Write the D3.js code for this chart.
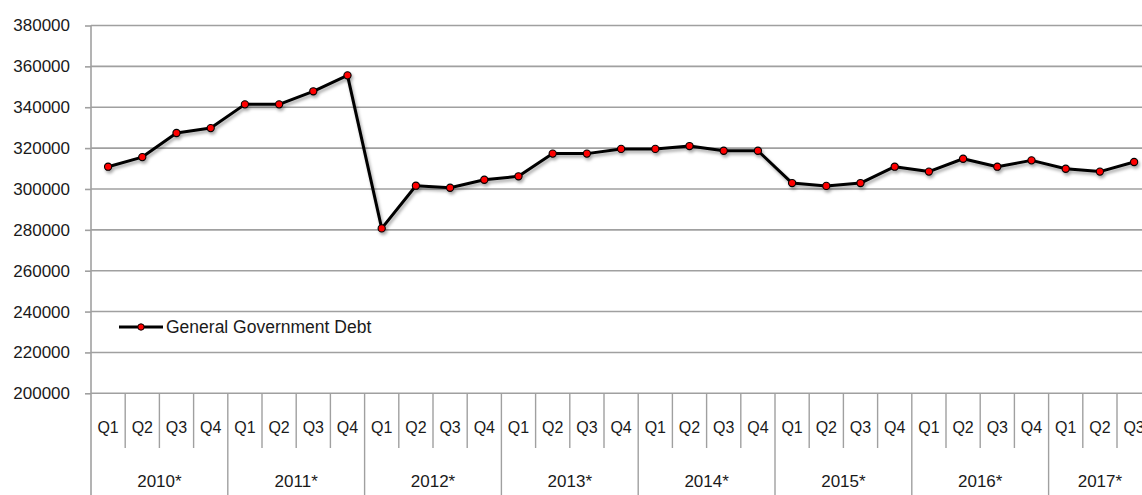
<!DOCTYPE html>
<html>
<head>
<meta charset="utf-8">
<script src="https://cdn.jsdelivr.net/npm/d3@7"></script>
<style>
  html, body { margin: 0; padding: 0; background: #fff; overflow: hidden; }
  text { font-family: "Liberation Sans", Arial, sans-serif; fill: #1a1a1a; }
</style>
</head>
<body>
<svg id="chart" width="1142" height="495"></svg>
<script>
// Quarterly general government debt, 2010* - 2017* Q3
const years = ['2010*', '2011*', '2012*', '2013*', '2014*', '2015*', '2016*', '2017*'];
const quarters = ['Q1', 'Q2', 'Q3', 'Q4'];
const quartersPerYear = [4, 4, 4, 4, 4, 4, 4, 3];
const debtValues = [
  310900, 315600, 327400, 329800,
  341400, 341400, 347800, 355600,
  280700, 301600, 300600, 304500,
  306200, 317300, 317300, 319600,
  319600, 321000, 318700, 318700,
  302900, 301500, 302900, 310900,
  308500, 314800, 310900, 314000,
  309900, 308500, 313200
];
const yTicks = [200000, 220000, 240000, 260000, 280000, 300000, 320000, 340000, 360000, 380000];
const seriesName = 'General Government Debt';

// build category list (year + quarter) from the arrays above
const categories = [];
years.forEach((yr, i) => {
  for (let q = 0; q < quartersPerYear[i]; q++) {
    categories.push({ key: yr + ' ' + quarters[q], year: yr, quarter: quarters[q] });
  }
});
const data = categories.map((c, i) => ({ ...c, value: debtValues[i] }));

const svg = d3.select('#chart');
const plotLeft = 91, plotTop = 25.5, plotBottom = 393.3;
const catWidth = 34.2;
const plotRight = plotLeft + catWidth * categories.length;
const gridColor = '#a0a0a0';

const x = d3.scaleBand()
  .domain(categories.map(c => c.key))
  .range([plotLeft, plotRight])
  .padding(0);

const y = d3.scaleLinear()
  .domain([200000, 380000])
  .range([plotBottom, plotTop]);

// shadow for the series
const defs = svg.append('defs');
const shadow = defs.append('filter').attr('id', 'shadow')
  .attr('x', '-10%').attr('y', '-10%').attr('width', '120%').attr('height', '130%');
shadow.append('feDropShadow')
  .attr('dx', 1.5).attr('dy', 2.5).attr('stdDeviation', 1.6)
  .attr('flood-color', '#000').attr('flood-opacity', 0.35);

// gridlines + y axis
const yAxis = svg.append('g')
  .attr('transform', `translate(${plotLeft},0)`)
  .call(d3.axisLeft(y).tickValues(yTicks).tickSize(6).tickFormat(d3.format('d')));
yAxis.select('.domain').remove();
yAxis.selectAll('.tick line').attr('stroke', gridColor).attr('stroke-width', 1.6);
yAxis.selectAll('.tick text')
  .attr('x', -21)
  .style('font-size', '17px')
  .style('font-family', '"Liberation Sans", Arial, sans-serif')
  .attr('fill', '#1a1a1a');

svg.append('g')
  .selectAll('line')
  .data(yTicks)
  .enter().append('line')
  .attr('x1', plotLeft)
  .attr('x2', plotRight)
  .attr('y1', d => y(d))
  .attr('y2', d => y(d))
  .attr('stroke', gridColor)
  .attr('stroke-width', 1.6);

// vertical axis line running down through the category labels
svg.append('line')
  .attr('x1', plotLeft).attr('x2', plotLeft)
  .attr('y1', plotTop).attr('y2', 495)
  .attr('stroke', gridColor).attr('stroke-width', 1.6);

// quarter separators and labels
const qGroup = svg.append('g');
data.forEach((d, i) => {
  if (i > 0) {
    const isYearStart = d.quarter === 'Q1';
    qGroup.append('line')
      .attr('x1', x(d.key)).attr('x2', x(d.key))
      .attr('y1', plotBottom).attr('y2', isYearStart ? 495 : 448)
      .attr('stroke', gridColor).attr('stroke-width', 1.4);
  }
  qGroup.append('text')
    .attr('x', x(d.key) + x.bandwidth() / 2)
    .attr('y', 433)
    .attr('text-anchor', 'middle')
    .style('font-size', '16px')
    .text(d.quarter);
});

// year labels, centred under their quarters
let start = 0;
years.forEach((yr, i) => {
  const first = categories[start].key;
  const n = quartersPerYear[i];
  const cx = x(first) + (x.bandwidth() * n) / 2;
  svg.append('text')
    .attr('x', cx)
    .attr('y', 486.5)
    .attr('text-anchor', 'middle')
    .style('font-size', '17px')
    .text(yr);
  start += n;
});

// series
const line = d3.line()
  .x(d => x(d.key) + x.bandwidth() / 2)
  .y(d => y(d.value));

const series = svg.append('g').attr('filter', 'url(#shadow)');
series.append('path')
  .datum(data)
  .attr('fill', 'none')
  .attr('stroke', '#000')
  .attr('stroke-width', 3)
  .attr('stroke-linejoin', 'round')
  .attr('d', line);

series.selectAll('circle')
  .data(data)
  .enter().append('circle')
  .attr('cx', d => x(d.key) + x.bandwidth() / 2)
  .attr('cy', d => y(d.value))
  .attr('r', 3.6)
  .attr('fill', '#ff0000')
  .attr('stroke', '#000')
  .attr('stroke-width', 1.1);

// legend
const legend = svg.append('g').attr('transform', 'translate(119,327)');
legend.append('line')
  .attr('x1', 0).attr('x2', 44)
  .attr('stroke', '#000').attr('stroke-width', 3);
legend.append('circle')
  .attr('cx', 22).attr('r', 3.2)
  .attr('fill', '#ff0000').attr('stroke', '#000').attr('stroke-width', 1);
legend.append('text')
  .attr('x', 47)
  .attr('dy', '0.35em')
  .style('font-size', '17.5px')
  .text(seriesName);
</script>
</body>
</html>
